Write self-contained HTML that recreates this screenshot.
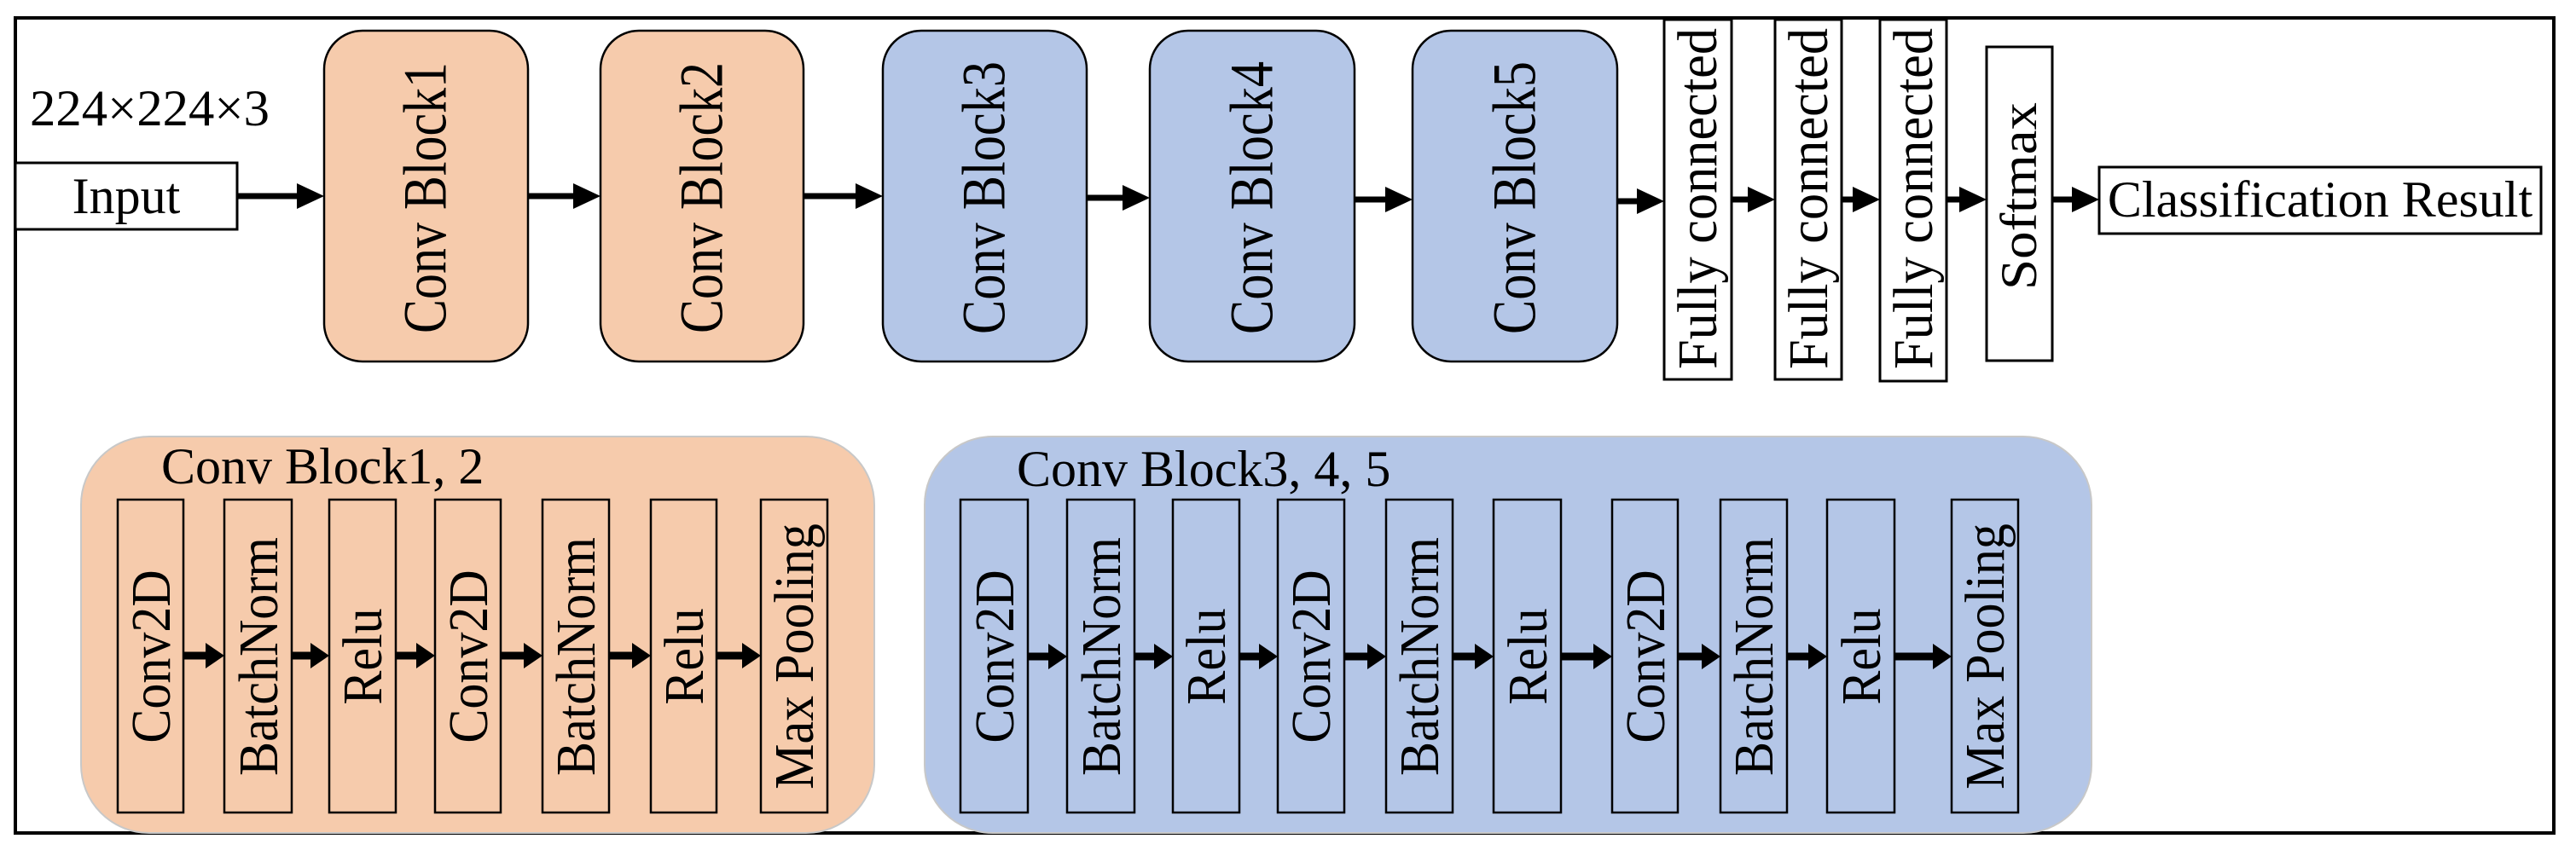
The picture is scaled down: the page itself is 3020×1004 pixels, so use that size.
<!DOCTYPE html>
<html><head><meta charset="utf-8"><style>
html,body{margin:0;padding:0;background:#fff;}
svg{display:block;}
text{font-family:"Liberation Serif",serif;font-size:60px;fill:#000;}
</style></head><body>
<svg width="3020" height="1004" viewBox="0 0 3020 1004" xmlns="http://www.w3.org/2000/svg">
<defs>
<g id="ah"><polygon points="0,-15 32,0 0,15" fill="#000"/></g>
<g id="sh"><polygon points="0,-15 22,0 0,15" fill="#000"/></g>
</defs>
<rect x="18" y="21" width="2976" height="956" fill="none" stroke="#000" stroke-width="4"/>

<text x="35" y="147" textLength="281" lengthAdjust="spacingAndGlyphs">224×224×3</text>
<rect x="18" y="191" width="260" height="78" fill="#fff" stroke="#000" stroke-width="3"/>
<text x="148" y="250" text-anchor="middle">Input</text>

<rect x="380" y="36" width="239" height="388" rx="45" fill="#F6CBAC" stroke="#000" stroke-width="2.5"/>
<rect x="704" y="36" width="238" height="388" rx="45" fill="#F6CBAC" stroke="#000" stroke-width="2.5"/>
<rect x="1035" y="36" width="239" height="388" rx="45" fill="#B4C6E7" stroke="#000" stroke-width="2.5"/>
<rect x="1348" y="36" width="240" height="388" rx="45" fill="#B4C6E7" stroke="#000" stroke-width="2.5"/>
<rect x="1656" y="36" width="240" height="388" rx="45" fill="#B4C6E7" stroke="#000" stroke-width="2.5"/>
<g dominant-baseline="central" text-anchor="middle">
<text transform="translate(499,232) rotate(-90) scale(1,1.2)" textLength="318" lengthAdjust="spacingAndGlyphs">Conv Block1</text>
<text transform="translate(823,232) rotate(-90) scale(1,1.2)" textLength="318" lengthAdjust="spacingAndGlyphs">Conv Block2</text>
<text transform="translate(1154,232) rotate(-90) scale(1,1.2)" textLength="320" lengthAdjust="spacingAndGlyphs">Conv Block3</text>
<text transform="translate(1468,232) rotate(-90) scale(1,1.2)" textLength="320" lengthAdjust="spacingAndGlyphs">Conv Block4</text>
<text transform="translate(1776,232) rotate(-90) scale(1,1.2)" textLength="320" lengthAdjust="spacingAndGlyphs">Conv Block5</text>
</g>

<rect x="1951" y="23" width="79" height="422" fill="#fff" stroke="#000" stroke-width="3"/>
<rect x="2081" y="23" width="78" height="422" fill="#fff" stroke="#000" stroke-width="3"/>
<rect x="2204" y="23" width="78" height="424" fill="#fff" stroke="#000" stroke-width="3"/>
<rect x="2329" y="55" width="77" height="368" fill="#fff" stroke="#000" stroke-width="3"/>
<g dominant-baseline="central" text-anchor="middle">
<text transform="translate(1990,233) rotate(-90) scale(1,1.1)" textLength="400" lengthAdjust="spacingAndGlyphs">Fully connected</text>
<text transform="translate(2120,233) rotate(-90) scale(1,1.1)" textLength="400" lengthAdjust="spacingAndGlyphs">Fully connected</text>
<text transform="translate(2243,233) rotate(-90) scale(1,1.1)" textLength="400" lengthAdjust="spacingAndGlyphs">Fully connected</text>
<text transform="translate(2367,230) rotate(-90)" textLength="220" lengthAdjust="spacingAndGlyphs">Softmax</text>
</g>
<rect x="2461" y="196" width="518" height="78" fill="#fff" stroke="#000" stroke-width="3"/>
<text x="2720" y="254" text-anchor="middle">Classification Result</text>

<g stroke="#000" stroke-width="7">
<line x1="278" y1="230" x2="350" y2="230"/>
<line x1="619" y1="230" x2="674" y2="230"/>
<line x1="942" y1="230" x2="1005" y2="230"/>
<line x1="1274" y1="232" x2="1318" y2="232"/>
<line x1="1588" y1="234" x2="1626" y2="234"/>
<line x1="1896" y1="236" x2="1921" y2="236"/>
<line x1="2030" y1="234" x2="2051" y2="234"/>
<line x1="2159" y1="234" x2="2174" y2="234"/>
<line x1="2282" y1="234" x2="2299" y2="234"/>
<line x1="2406" y1="234" x2="2431" y2="234"/>
</g>
<use href="#ah" x="348" y="230"/>
<use href="#ah" x="672" y="230"/>
<use href="#ah" x="1003" y="230"/>
<use href="#ah" x="1316" y="232"/>
<use href="#ah" x="1624" y="234"/>
<use href="#ah" x="1919" y="236"/>
<use href="#ah" x="2049" y="234"/>
<use href="#ah" x="2172" y="234"/>
<use href="#ah" x="2297" y="234"/>
<use href="#ah" x="2429" y="234"/>

<rect x="95" y="512" width="930" height="465" rx="80" fill="#F6CBAC" stroke="#c8c8c8" stroke-width="2"/>
<rect x="1084" y="512" width="1368" height="465" rx="80" fill="#B4C6E7" stroke="#c8c8c8" stroke-width="2"/>
<text x="189" y="567">Conv Block1, 2</text>
<text x="1192" y="570">Conv Block3, 4, 5</text>

<g fill="none" stroke="#000" stroke-width="2.5">
<rect x="138" y="586" width="77" height="367"/>
<rect x="263" y="586" width="79" height="367"/>
<rect x="386" y="586" width="78" height="367"/>
<rect x="510" y="586" width="77" height="367"/>
<rect x="636" y="586" width="78" height="367"/>
<rect x="763" y="586" width="77" height="367"/>
<rect x="892" y="586" width="78" height="367"/>
<rect x="1126" y="586" width="79" height="367"/>
<rect x="1251" y="586" width="79" height="367"/>
<rect x="1375" y="586" width="78" height="367"/>
<rect x="1498" y="586" width="78" height="367"/>
<rect x="1625" y="586" width="78" height="367"/>
<rect x="1751" y="586" width="79" height="367"/>
<rect x="1890" y="586" width="77" height="367"/>
<rect x="2017" y="586" width="78" height="367"/>
<rect x="2142" y="586" width="79" height="367"/>
<rect x="2288" y="586" width="78" height="367"/>
</g>
<g dominant-baseline="central" text-anchor="middle">
<text transform="translate(177,770) rotate(-90) scale(1,1.1)">Conv2D</text>
<text transform="translate(303,770) rotate(-90) scale(1,1.1)">BatchNorm</text>
<text transform="translate(425,770) rotate(-90) scale(1,1.1)">Relu</text>
<text transform="translate(549,770) rotate(-90) scale(1,1.1)">Conv2D</text>
<text transform="translate(675,770) rotate(-90) scale(1,1.1)">BatchNorm</text>
<text transform="translate(802,770) rotate(-90) scale(1,1.1)">Relu</text>
<text transform="translate(931,770) rotate(-90) scale(1,1.1)">Max Pooling</text>
<text transform="translate(1166,770) rotate(-90) scale(1,1.1)">Conv2D</text>
<text transform="translate(1291,770) rotate(-90) scale(1,1.1)">BatchNorm</text>
<text transform="translate(1414,770) rotate(-90) scale(1,1.1)">Relu</text>
<text transform="translate(1537,770) rotate(-90) scale(1,1.1)">Conv2D</text>
<text transform="translate(1664,770) rotate(-90) scale(1,1.1)">BatchNorm</text>
<text transform="translate(1791,770) rotate(-90) scale(1,1.1)">Relu</text>
<text transform="translate(1929,770) rotate(-90) scale(1,1.1)">Conv2D</text>
<text transform="translate(2056,770) rotate(-90) scale(1,1.1)">BatchNorm</text>
<text transform="translate(2182,770) rotate(-90) scale(1,1.1)">Relu</text>
<text transform="translate(2327,770) rotate(-90) scale(1,1.1)">Max Pooling</text>
</g>

<g stroke="#000" stroke-width="9">
<line x1="215" y1="769" x2="243" y2="769"/>
<line x1="342" y1="769" x2="366" y2="769"/>
<line x1="464" y1="769" x2="490" y2="769"/>
<line x1="587" y1="769" x2="616" y2="769"/>
<line x1="714" y1="769" x2="743" y2="769"/>
<line x1="840" y1="769" x2="872" y2="769"/>
<line x1="1205" y1="770" x2="1231" y2="770"/>
<line x1="1330" y1="770" x2="1355" y2="770"/>
<line x1="1453" y1="770" x2="1478" y2="770"/>
<line x1="1576" y1="770" x2="1605" y2="770"/>
<line x1="1703" y1="770" x2="1731" y2="770"/>
<line x1="1830" y1="770" x2="1870" y2="770"/>
<line x1="1967" y1="770" x2="1997" y2="770"/>
<line x1="2095" y1="770" x2="2122" y2="770"/>
<line x1="2221" y1="770" x2="2268" y2="770"/>
</g>
<use href="#sh" x="241" y="769"/>
<use href="#sh" x="364" y="769"/>
<use href="#sh" x="488" y="769"/>
<use href="#sh" x="614" y="769"/>
<use href="#sh" x="741" y="769"/>
<use href="#sh" x="870" y="769"/>
<use href="#sh" x="1229" y="770"/>
<use href="#sh" x="1353" y="770"/>
<use href="#sh" x="1476" y="770"/>
<use href="#sh" x="1603" y="770"/>
<use href="#sh" x="1729" y="770"/>
<use href="#sh" x="1868" y="770"/>
<use href="#sh" x="1995" y="770"/>
<use href="#sh" x="2120" y="770"/>
<use href="#sh" x="2266" y="770"/>
</svg>
</body></html>
